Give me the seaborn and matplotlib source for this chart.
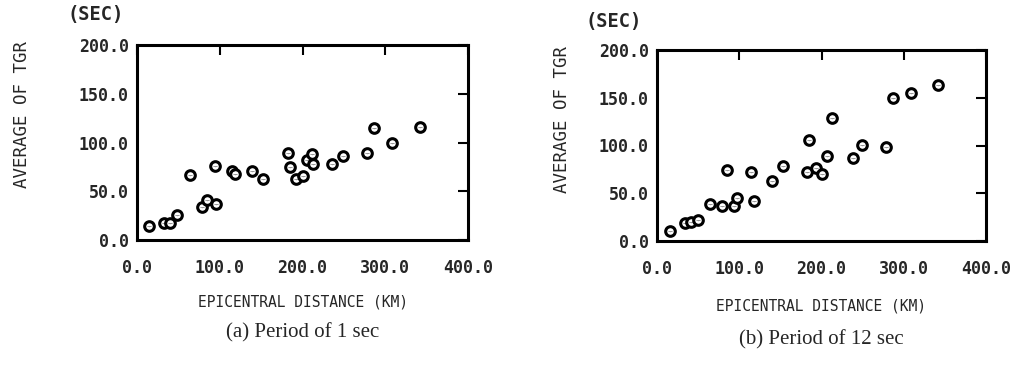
import matplotlib
matplotlib.use("Agg")
import matplotlib.pyplot as plt
import seaborn as sns
import pandas as pd

# Data: (a) Period of 1 sec
dist_a = [14.8, 32.3, 40.4, 48.5, 63.5, 79.0, 85.0, 96.0, 94.0, 114.6, 118.7, 139.0,
          152.0, 183.0, 184.4, 191.7, 200.6, 205.5, 212.0, 212.8, 235.9, 249.3, 278.5,
          287.0, 308.0, 341.4]
tgr_a = [14.2, 17.7, 17.4, 26.1, 66.8, 33.5, 41.2, 36.7, 76.3, 70.4, 67.5, 71.0,
         63.0, 89.3, 74.6, 63.0, 65.8, 81.6, 88.6, 78.0, 78.0, 86.1, 89.3,
         115.0, 99.0, 116.0]

# Data: (b) Period of 12 sec
dist_b = [15.7, 34.1, 41.0, 49.8, 63.9, 79.1, 85.1, 93.2, 97.2, 114.5, 118.5, 140.2,
          153.4, 182.7, 184.7, 193.6, 200.4, 207.2, 212.9, 237.8, 249.8, 278.7,
          287.1, 309.2, 342.2]
tgr_b = [10.5, 18.4, 19.8, 22.2, 39.0, 36.6, 74.4, 36.3, 45.2, 72.7, 41.8, 62.4,
         78.5, 72.7, 105.3, 76.8, 70.6, 89.5, 129.0, 87.1, 100.5, 98.8,
         150.0, 154.5, 163.4]

x_ticks = [0, 100, 200, 300, 400]
y_ticks = [0, 50, 100, 150, 200]
x_ticklabels = ["0.0", "100.0", "200.0", "300.0", "400.0"]
y_ticklabels = ["0.0", "50.0", "100.0", "150.0", "200.0"]
captions = ["(a) Period of 1 sec", "(b) Period of 12 sec"]

sns.set_style("white")
mono = ["DejaVu Sans Mono"]
serif = ["Liberation Serif", "DejaVu Serif"]

fig = plt.figure(figsize=(10.17, 3.70), dpi=100)
ax_a = fig.add_axes([137/1017, 1-240/370, 331/1017, 195/370])
ax_b = fig.add_axes([657/1017, 1-241/370, 329/1017, 191/370])

# per-panel text placement (axes fractions)
panels = [
    (ax_a, dist_a, tgr_a, captions[0], -0.32, -0.475, (-0.124, 1.154), (-0.347, 0.646)),
    (ax_b, dist_b, tgr_b, captions[1], -0.34, -0.515, (-0.131, 1.147), (-0.289, 0.634)),
]

for ax, xs, ys, cap, xl_y, cap_y, sec_xy, yl_xy in panels:
    df = pd.DataFrame({"dist": xs, "tgr": ys})
    sns.scatterplot(data=df, x="dist", y="tgr", ax=ax, marker="o", s=48,
                    facecolor="white", edgecolor="black", linewidth=2.2, zorder=3)
    sns.scatterplot(data=df, x="dist", y="tgr", ax=ax, marker="$\\smile$", s=14,
                    color="black", linewidth=0, zorder=4)
    ax.set_xlim(0, 400)
    ax.set_ylim(0, 200)
    ax.set_xticks(x_ticks)
    ax.set_yticks(y_ticks)
    ax.set_xticklabels(x_ticklabels, family=mono, fontsize=12, fontweight="bold")
    ax.set_yticklabels(y_ticklabels, family=mono, fontsize=12, fontweight="bold")
    ax.tick_params(direction="in", length=7, width=1.5, top=True, right=True,
                   labeltop=False, labelright=False, color="black")
    ax.tick_params(axis="y", pad=6)
    ax.tick_params(axis="x", pad=14)
    for sp in ax.spines.values():
        sp.set_linewidth(2.2)
        sp.set_color("black")
    ax.set_xlabel("")
    ax.set_ylabel("")
    ax.text(yl_xy[0], yl_xy[1], "AVERAGE OF TGR", transform=ax.transAxes,
            rotation=90, ha="center", va="center", family=mono, fontsize=12.5)
    ax.text(0.5, xl_y, "EPICENTRAL DISTANCE (KM)", transform=ax.transAxes,
            ha="center", va="center", family=mono, fontsize=10.5)
    ax.text(0.5, cap_y, cap, transform=ax.transAxes, ha="center", va="center",
            family=serif, fontsize=15)
    ax.text(sec_xy[0], sec_xy[1], "(SEC)", transform=ax.transAxes, ha="center",
            va="center", family=mono, fontsize=13.5, fontweight="bold")

fig.savefig("out.png", dpi=100, facecolor="white")
